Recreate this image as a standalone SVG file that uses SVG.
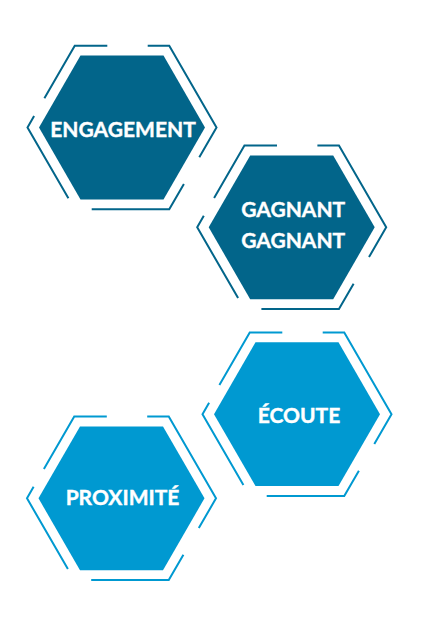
<svg xmlns="http://www.w3.org/2000/svg" xmlns:xlink="http://www.w3.org/1999/xlink" width="427" height="632" viewBox="0 0 427 632">
  <style>
    .label { font-family: Lato, "Open Sans", "Liberation Sans", sans-serif; font-weight: 700; font-size: 21px; fill: #ffffff; stroke: #ffffff; stroke-width: 0.4; text-anchor: middle; }
    .frame { fill: none; stroke-width: 2; }
    .dark { fill: #02658a; stroke: #02658a; }
    .light { fill: #0099d1; stroke: #0099d1; }
  </style>
  <defs>
    <!-- solid hexagon, flat top, radius 83, centred on the origin -->
    <polygon id="hexCore" stroke="none" points="-41.5,-71.9 41.5,-71.9 83,0 41.5,71.9 -41.5,71.9 -83,0"/>
    <!-- broken outer hexagon outline, radius 94.5 -->
    <g id="hexFrame">
      <polyline points="-77.6,-29.2 -47.25,-81.8 -14.7,-81.8"/>
      <polyline points="25.7,-81.8 47.25,-81.8 94.5,0 77.3,29.8"/>
      <polyline points="61.9,56.5 47.25,81.8 -30.3,81.8"/>
      <polyline points="-53.6,70.8 -94.5,0 -87.9,-11.5"/>
    </g>
  </defs>

  <g id="connectors"/>

  <g id="engagement" class="dark" transform="translate(122,127.5)">
    <use xlink:href="#hexCore"/>
    <use xlink:href="#hexFrame" class="frame"/>
    <text class="label" x="1" y="9.2">ENGAGEMENT</text>
  </g>

  <g id="gagnant" class="dark" transform="translate(291.7,227.3)">
    <use xlink:href="#hexCore"/>
    <use xlink:href="#hexFrame" class="frame"/>
    <text class="label" x="1.5" y="-10.6">GAGNANT</text>
    <text class="label" x="1.5" y="20.4">GAGNANT</text>
  </g>

  <g id="ecoute" class="light" transform="translate(297,414.2)">
    <use xlink:href="#hexCore"/>
    <use xlink:href="#hexFrame" class="frame"/>
    <text class="label" x="2" y="9.1">ÉCOUTE</text>
  </g>

  <g id="proximite" class="light" transform="translate(121.5,498.3)">
    <use xlink:href="#hexCore"/>
    <use xlink:href="#hexFrame" class="frame"/>
    <text class="label" x="1" y="6.7">PROXIMITÉ</text>
  </g>
</svg>
